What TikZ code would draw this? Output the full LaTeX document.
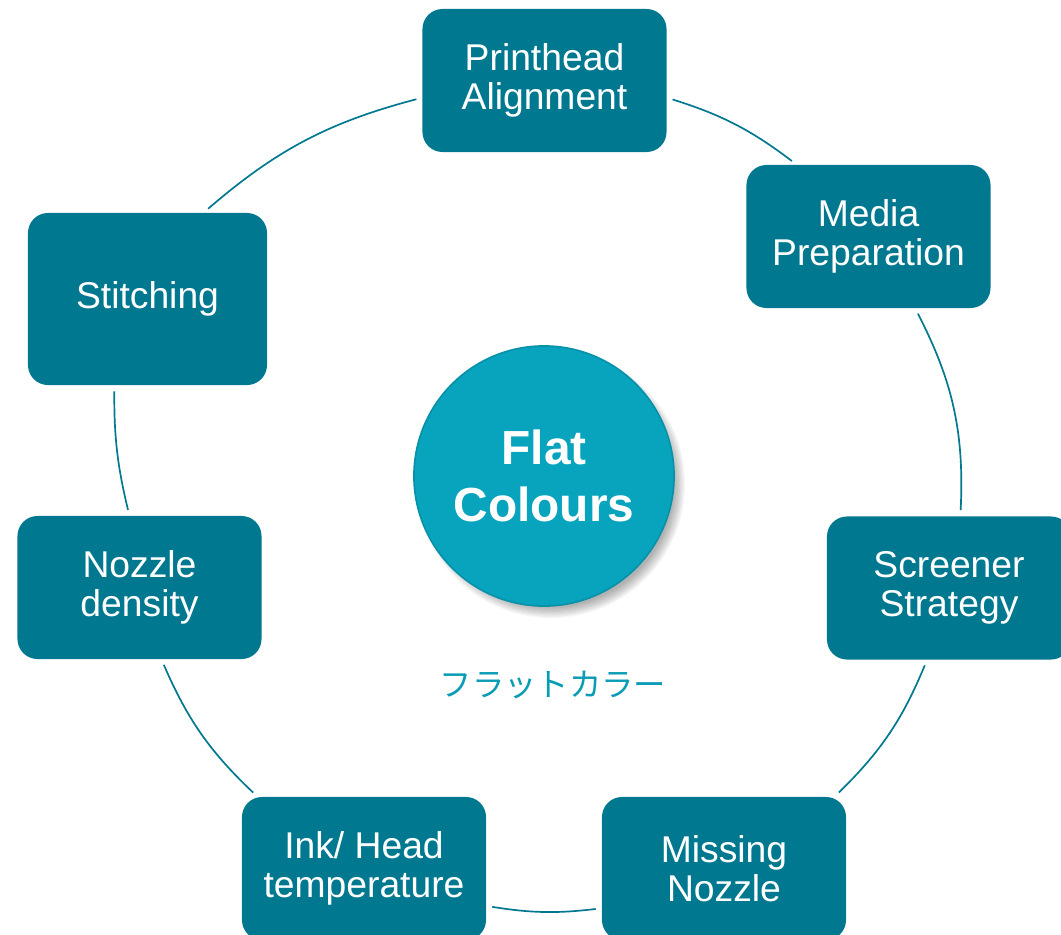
\documentclass[tikz,border=0pt]{standalone}
\usepackage{fontspec}
\setmainfont{Liberation Sans}
\newfontfamily\jpfont{Noto Sans CJK JP}
\definecolor{boxteal}{HTML}{00788F}
\definecolor{hubteal}{HTML}{08A4BE}
\definecolor{hubrim}{HTML}{0792AA}
\definecolor{jpteal}{HTML}{0A9CB4}
\tikzset{
  factor/.style={fill=boxteal, rounded corners=0.5cm, text=white, align=center,
    minimum width=6.1cm, minimum height=3.575cm, inner sep=0pt,
    font=\fontsize{26.5}{27.5}\selectfont},
  ring/.style={draw=boxteal, line width=1.2pt, shorten <=0.15cm, shorten >=0.15cm},
}

\begin{document}
\begin{tikzpicture}[x=0.025cm, y=0.025cm]
	\useasboundingbox (0,0) rectangle (1061,-935);
	%\draw[help lines] (0,0) grid[step=100] (1061,-935);
	% the seven factors round the ring
	\node[factor] (pa) at (544.5,-80.5) {Printhead\\Alignment};
	\node[factor] (mp) at (868.5,-236.5) {Media\\Preparation};
	\node[factor] (ss) at (949,-588) {Screener\\Strategy};
	\node[factor] (mn) at (724,-868.5) {Missing\\Nozzle};
	\node[factor] (iht) at (364,-868.5) {Ink/ Head\\temperature};
	\node[factor] (nd) at (139.5,-587.5) {Nozzle\\density};
	\node[factor, minimum width=5.975cm, minimum height=4.3cm] (st) at (147.5,-299) {Stitching};
	% ring pieces
	\draw[ring] (pa.-8.4) to[bend left=10] (mp.135.4);
	\draw[ring] (mp.-57) to[bend left=15] (ss.81.6);
	\draw[ring] (ss.-107.4) to[bend left=11.6] (mn.33.75);
	\draw[ring] (mn.-162.1) to[bend left=8] (iht.-17.9);
	\draw[ring] (iht.146.25) to[bend left=11.6] (nd.-73);
	\draw[ring] (nd.98) to[bend left=7] (st.-111.6);
	\draw[ring] (st.57.6) to[bend left=13] (pa.188.4);
	% hub with its shadow
	\coordinate (hubc) at (544,-476);
	\foreach \s in {1,...,10}
		\fill[black, opacity=0.035] ([shift={(7,-8)}]hubc) circle [radius=3.05cm+\s*0.03cm];
	\node[circle, fill=hubteal, draw=hubrim, line width=1.2pt, minimum size=6.5cm,
		text=white, align=center, font=\bfseries\fontsize{34}{40}\selectfont] (hub) at (hubc) {Flat\\Colours};
	\node[text=jpteal, font=\jpfont\fontsize{23}{28}\selectfont] (jp) at (553,-685) {フラットカラー};
\end{tikzpicture}
\end{document}
